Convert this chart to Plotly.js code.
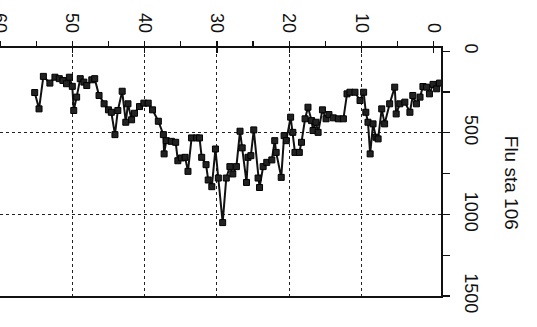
<!DOCTYPE html>
<html>
<head>
<meta charset="utf-8">
<script src="https://cdn.plot.ly/plotly-3.0.1.min.js"></script>
<style>html,body{margin:0;padding:0;background:#fff;}#chart{width:537px;height:327px;}</style>
</head>
<body>
<div id="chart"></div>
<script>
const depth = [55.2,54.6,54.0,53.1,52.4,51.8,51.3,50.8,50.4,50.0,
  49.8,49.4,48.9,48.4,48.0,47.3,46.9,46.3,45.6,45.0,
  44.6,44.1,43.7,43.1,42.6,42.3,41.8,41.4,40.7,40.1,
  39.5,38.9,38.1,37.4,37.3,37.0,36.3,35.7,35.4,34.9,
  34.4,34.0,33.5,32.8,32.4,32.1,31.5,31.2,30.7,30.2,
  29.8,29.2,28.7,28.2,27.8,27.3,26.8,26.5,25.9,25.7,
  25.3,24.9,24.3,24.1,23.6,23.1,22.4,22.0,21.8,21.1,
  20.7,20.4,19.8,19.5,19.2,18.6,18.3,17.8,17.4,16.9,
  16.7,16.3,16.0,15.4,14.9,14.5,13.9,13.2,12.5,12.0,
  11.6,10.9,10.2,9.7,9.4,9.1,8.8,8.4,8.0,7.7,
  7.2,6.8,6.1,5.4,5.2,4.7,4.0,3.3,2.9,2.4,
  1.9,1.5,1.0,0.6,0.1,-0.4,-0.8];
const flu = [253,353,154,195,159,168,179,199,159,215,
  363,281,168,189,210,175,168,271,322,359,
  374,511,363,245,435,322,420,380,339,318,
  318,359,429,511,629,548,552,558,671,654,
  650,736,531,531,531,650,695,789,830,599,
  777,1050,777,707,752,707,490,592,804,650,
  640,482,777,835,707,681,666,548,620,773,
  517,548,404,497,620,620,558,414,343,425,
  486,435,497,359,414,388,408,414,414,261,
  251,251,302,251,374,435,629,445,527,537,
  353,445,322,220,384,322,312,374,271,322,
  281,216,220,261,203,230,195];
const depthTicks = [0,10,20,30,40,50,60];
const depthMinor = [5,15,25,35,45,55];
const depthGrid = [10,20,30,40,50];
const fluTicks = [0,500,1000,1500];
const fluMinor = [250,750,1250];
const fluGrid = [500,1000];
const titleText = "Flu sta 106";

const FONT = "Liberation Sans, Arial, sans-serif";
const xr = [60,-1];
const yr = [1500,-20];

const traces = [
  {x: depth, y: flu, type: 'scatter', mode: 'lines+markers', xaxis: 'x', yaxis: 'y',
   line: {color: '#111', width: 2},
   marker: {symbol: 'square', size: 6, color: '#222', line: {color: '#000', width: 1}},
   hoverinfo: 'skip', showlegend: false},
  {x: [], y: [], type: 'scatter', mode: 'markers', xaxis: 'x2', yaxis: 'y2', showlegend: false, hoverinfo: 'skip'},
  {x: [], y: [], type: 'scatter', mode: 'markers', xaxis: 'x3', yaxis: 'y', showlegend: false, hoverinfo: 'skip'}
];

const layout = {
  width: 537, height: 327,
  margin: {l: 0, r: 96, t: 48, b: 31, pad: 0},
  paper_bgcolor: '#fff', plot_bgcolor: '#fff',
  font: {family: FONT, color: '#111', size: 18},
  showlegend: false,
  xaxis: {
    side: 'top', range: xr, tickvals: depthTicks, ticktext: depthTicks.map(String),
    tickangle: 90, ticks: 'outside', ticklen: 5, tickwidth: 1.3, tickcolor: '#111',
    minor: {tickvals: depthMinor, ticks: 'outside', ticklen: 5, tickwidth: 1.2, tickcolor: '#111', showgrid: false},
    showgrid: false, zeroline: false, showline: true, linecolor: '#111', linewidth: 1.6, mirror: true,
    tickfont: {size: 18, family: FONT, color: '#111'}, ticklabelstandoff: 2, ticklabeloverflow: 'allow'
  },
  yaxis: {
    side: 'right', range: yr, tickvals: fluTicks, ticktext: fluTicks.map(String),
    tickangle: 90, ticks: 'outside', ticklen: 7, tickwidth: 1.3, tickcolor: '#111',
    minor: {tickvals: fluMinor, ticks: 'outside', ticklen: 7, tickwidth: 1.2, tickcolor: '#111', showgrid: false},
    showgrid: false, zeroline: false, showline: true, linecolor: '#111', linewidth: 1.6, mirror: true,
    tickfont: {size: 18, family: FONT, color: '#111'}, ticklabelstandoff: 8, ticklabeloverflow: 'allow'
  },
  xaxis2: {
    overlaying: 'x', side: 'top', range: xr, tickvals: depthTicks, showticklabels: false,
    ticks: 'inside', ticklen: 5, tickwidth: 1.3, tickcolor: '#111',
    showgrid: false, zeroline: false, showline: false
  },
  yaxis2: {
    overlaying: 'y', side: 'right', range: yr, tickvals: fluGrid, showticklabels: false,
    ticks: '', showgrid: true, gridcolor: '#222', gridwidth: 1, griddash: 'dot',
    zeroline: false, showline: false
  },
  xaxis3: {
    overlaying: 'x', side: 'bottom', range: xr, tickvals: depthGrid, showticklabels: false,
    ticks: '', showgrid: true, gridcolor: '#222', gridwidth: 1, griddash: 'dot',
    zeroline: false, showline: false
  },
  annotations: [{
    text: titleText, xref: 'paper', yref: 'paper', x: 1.159, y: 0.456,
    xanchor: 'center', yanchor: 'middle', showarrow: false, textangle: 90,
    font: {size: 19, family: FONT, color: '#111'}
  }]
};

Plotly.newPlot('chart', traces, layout, {staticPlot: true, displayModeBar: false});
</script>
</body>
</html>
